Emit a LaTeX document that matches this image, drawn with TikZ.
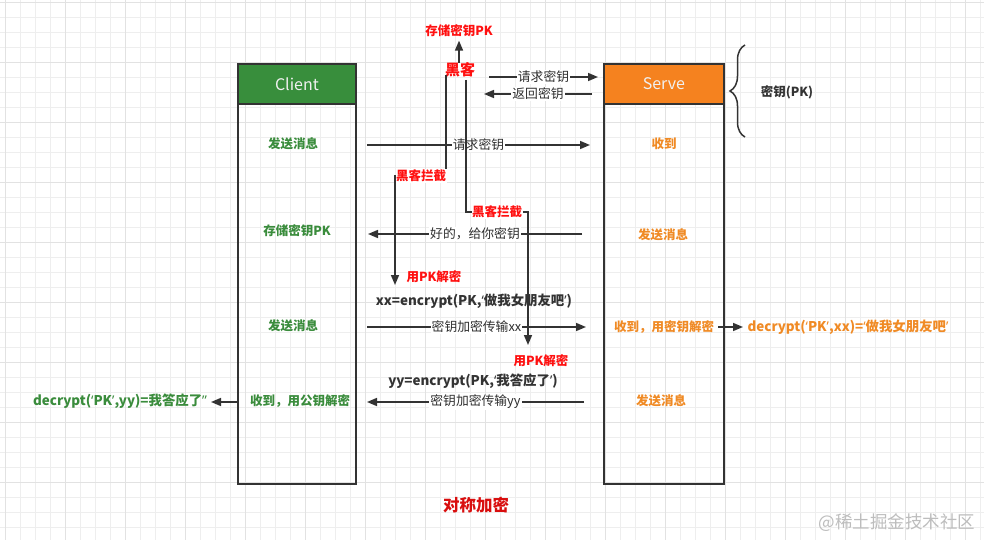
\documentclass[tikz,border=0pt]{standalone}
\usepackage{fontspec}
\setmainfont{Noto Sans CJK SC}
\newfontfamily\latq{Noto Sans}
\newcommand\qopen{{\latq ‘}}
\newcommand\qclose{{\latq ’}}
\usetikzlibrary{arrows.meta,decorations.pathreplacing}
\definecolor{cgreen}{HTML}{388E3C}
\definecolor{corange}{HTML}{F5821F}
\definecolor{tgreen}{HTML}{3A8C3C}
\definecolor{torange}{HTML}{F08A24}
\definecolor{tred}{HTML}{FF1010}
\definecolor{ink}{HTML}{333333}
\definecolor{gminor}{HTML}{EEEEEE}
\definecolor{gmajor}{HTML}{E2E2E2}
\definecolor{wm}{HTML}{BDBDBD}
\tikzset{
  frame/.style={draw=ink, line width=1.8pt},
  head/.style={draw=ink, line width=1.8pt, minimum width=118pt, minimum height=40pt, anchor=north west, text=white!94!black, font=\fontsize{16}{18}\selectfont},
  arr/.style={draw=ink, line width=1.6pt, -{Triangle[length=10pt,width=8pt]}},
  elbl/.style={fill=white, inner sep=1pt, text=ink!90!black, font=\fontsize{12.8}{14}\selectfont},
  glbl/.style={text=tgreen, font=\bfseries\fontsize{12.5}{14}\selectfont},
  olbl/.style={text=torange, font=\bfseries\fontsize{12.5}{14}\selectfont},
  rlbl/.style={text=tred, font=\bfseries\fontsize{12.5}{14}\selectfont},
  klbl/.style={text=ink, font=\bfseries\fontsize{12.5}{14}\selectfont},
  wide/.style={font=\bfseries\fontsize{13.4}{15}\selectfont},
}
\begin{document}
\begin{tikzpicture}[x=1pt,y=-1pt]
\useasboundingbox (0,0) rectangle (984,540);
\fill[white] (0,0) rectangle (984,540);
% grid
\foreach \i in {0,...,65} {\draw[gminor, line width=0.8pt] ({5+15*\i},0) -- ({5+15*\i},540);}
\foreach \j in {0,...,36} {\draw[gminor, line width=0.8pt] (0,{2+15*\j}) -- (984,{2+15*\j});}
\foreach \i in {0,...,16} {\draw[gmajor, line width=0.8pt] ({5+60*\i},0) -- ({5+60*\i},540);}
\foreach \j in {0,...,9} {\draw[gmajor, line width=0.8pt] (0,{2+60*\j}) -- (984,{2+60*\j});}

% lifelines
\node[frame, minimum width=118pt, minimum height=420pt, anchor=north west, inner sep=0pt] (client) at (237,63) {};
\node[head, fill=cgreen] (clienth) at (237,63) {Client};
\node[frame, minimum width=120pt, minimum height=420pt, anchor=north west, inner sep=0pt] (serve) at (603,63) {};
\node[head, fill=corange, minimum width=120pt] (serveh) at (603,63) {Serve};

% brace
\draw[ink, line width=1.5pt, decorate, decoration={brace, amplitude=15pt}] (745,137) -- (745,45);
\node[klbl] (pk) at (787,92) {密钥(PK)};

% client labels
\node[glbl] (c1) at (293,144) {发送消息};
\node[glbl] (c2) at (297,231) {存储密钥PK};
\node[glbl] (c3) at (293,326) {发送消息};
\node[glbl] (c4) at (300,401) {收到，用公钥解密};
\node[text=tgreen, wide] (gdec) at (120,401) {decrypt(\qopen PK\qclose,yy)=我答应了\qclose\qclose};

% serve labels
\node[olbl] (s1) at (664,144) {收到};
\node[olbl] (s2) at (663,235) {发送消息};
\node[olbl] (s3) at (664,327) {收到，用密钥解密};
\node[olbl] (s4) at (661,401) {发送消息};
\node[text=torange, wide] (odec) at (848,327) {decrypt(\qopen PK\qclose,xx)=\qopen 做我女朋友吧\qclose};

% hacker
\node[text=tred, font=\bfseries\fontsize{15}{17}\selectfont, inner sep=1pt] (hk) at (460,70) {黑客};
\node[rlbl] (store) at (459,31) {存储密钥PK};
\draw[arr] (459,63) -- (store.south);

\coordinate (hr1) at (489,77);
\coordinate (hr2) at (598,77);
\draw[arr] (hr1) -- node[elbl] {请求密钥} (hr2);
\coordinate (hb1) at (592,94);
\coordinate (hb2) at (484,94);
\draw[arr] (hb1) -- node[elbl] {返回密钥} (hb2);

% main messages
\coordinate (m1a) at (367,145); \coordinate (m1b) at (590,145);
\draw[arr] (m1a) -- node[elbl] {请求密钥} (m1b);
\coordinate (m2a) at (582,234); \coordinate (m2b) at (368,234);
\draw[arr] (m2a) -- node[elbl, pos=0.5] {好的，给你密钥} (m2b);
\node[text=ink, wide] (xx) at (474,301) {xx=encrypt(PK,\qopen 做我女朋友吧\qclose)};
\coordinate (m3a) at (367,327); \coordinate (m3b) at (586,327);
\draw[arr] (m3a) -- node[elbl] {密钥加密传输xx} (m3b);
\node[text=ink, wide] (yy) at (473,381) {yy=encrypt(PK,\qopen 我答应了\qclose)};
\coordinate (m4a) at (584,402); \coordinate (m4b) at (367,402);
\draw[arr] (m4a) -- node[elbl] {密钥加密传输yy} (m4b);

% side arrows
\coordinate (sd1) at (718,327); \coordinate (sd2) at (743,327);
\draw[arr] (sd1) -- (sd2);
\coordinate (cd1) at (237,402); \coordinate (cd2) at (211,402);
\draw[arr] (cd1) -- (cd2);

% interception paths
\coordinate (i1a) at (446,75); \coordinate (i1b) at (395,176); \coordinate (i1c) at (395,285);
\draw[arr] (i1a) |- (i1b) -- (i1c);
\node[rlbl, fill=white, inner sep=0.5pt] (int1) at (421,176) {黑客拦截};
\node[rlbl] (dec1) at (434,277) {用PK解密};
\coordinate (i2a) at (466,80); \coordinate (i2b) at (528,212); \coordinate (i2c) at (528,345);
\draw[arr] (i2a) |- (i2b) -- (i2c);
\node[rlbl, fill=white, inner sep=0.5pt] (int2) at (497,212) {黑客拦截};
\node[rlbl] (dec2) at (541,361) {用PK解密};

% title and watermark
\node[text=tred!85!black, font=\bfseries\fontsize{16.5}{18}\selectfont] (title) at (476,505) {对称加密};
\node[text=wm, font=\fontsize{17.5}{19}\selectfont] (wmk) at (897,523) {@稀土掘金技术社区};
\end{tikzpicture}
\end{document}
